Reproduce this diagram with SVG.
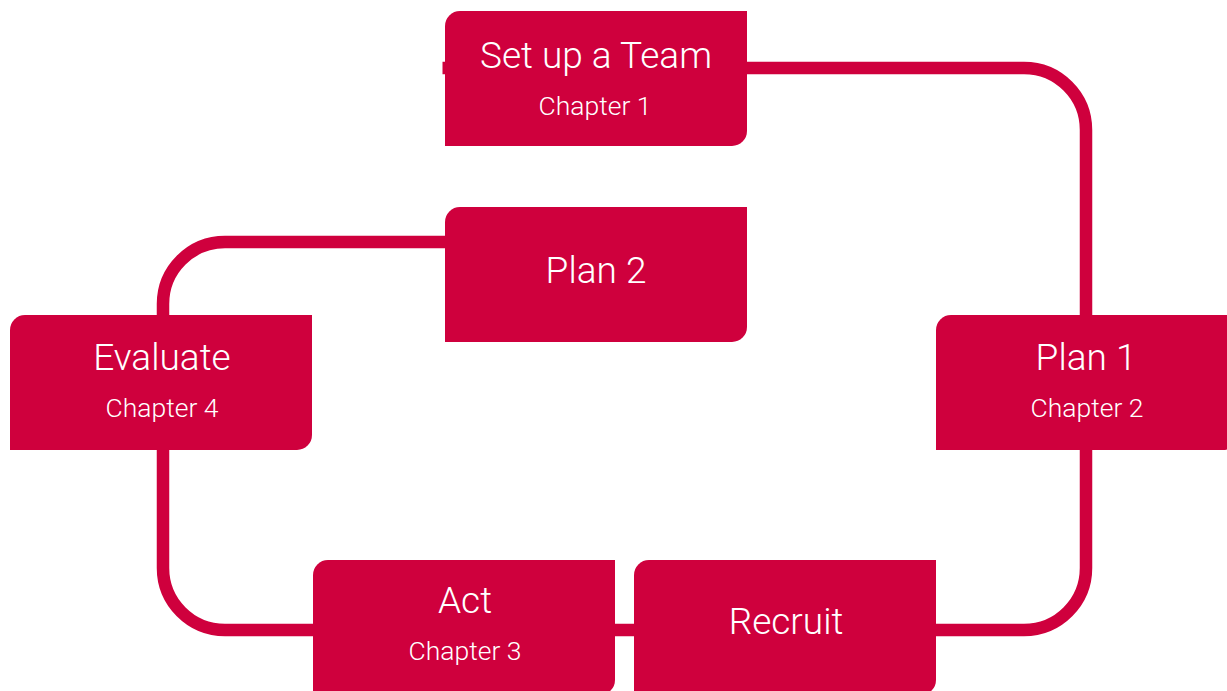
<svg xmlns="http://www.w3.org/2000/svg" width="1227" height="691" viewBox="0 0 1227 691">
  <style>
    .link { fill: none; stroke: #cf003d; stroke-width: 12.5; }
    .box { fill: #cf003d; }
    .title { font-family: Roboto, "Liberation Sans", sans-serif; font-weight: 300; font-size: 37px; fill: #ffffff; text-anchor: middle; }
    .sub { font-family: Roboto, "Liberation Sans", sans-serif; font-weight: 300; font-size: 26.5px; fill: #ffffff; text-anchor: middle; }
  </style>
  <defs>
    <!-- box with rounded top-left and bottom-right corners, 302 x 135 -->
    <path id="card" d="M0 15 A15 15 0 0 1 15 0 H302 V120 A15 15 0 0 1 287 135 H0 Z"/>
  </defs>
  <rect width="1227" height="691" fill="#ffffff"/>

  <g id="connectors">
    <path class="link" d="M740 68 H1024 A62 62 0 0 1 1086 130 V320"/>
    <path class="link" d="M1086 444 V568 A62 62 0 0 1 1024 630 H930"/>
    <path class="link" d="M640 630 H608"/>
    <path class="link" d="M320 630 H225 A62 62 0 0 1 163 568 V444"/>
    <path class="link" d="M163 320 V304 A62 62 0 0 1 225 242 H452"/>
    <path class="link" d="M442.5 68 H450"/>
  </g>

  <g id="node-setup">
    <use href="#card" class="box" x="445" y="11"/>
    <text class="title" x="596" y="68">Set up a Team</text>
    <text class="sub" x="595" y="115">Chapter 1</text>
  </g>

  <g id="node-plan2">
    <use href="#card" class="box" x="445" y="207"/>
    <text class="title" x="596" y="283">Plan 2</text>
  </g>

  <g id="node-evaluate">
    <use href="#card" class="box" x="10" y="315"/>
    <text class="title" x="162" y="370">Evaluate</text>
    <text class="sub" x="162" y="417">Chapter 4</text>
  </g>

  <g id="node-plan1">
    <use href="#card" class="box" x="936" y="315"/>
    <text class="title" x="1086" y="370">Plan 1</text>
    <text class="sub" x="1087" y="417">Chapter 2</text>
  </g>

  <g id="node-act">
    <use href="#card" class="box" x="313" y="560"/>
    <text class="title" x="465" y="613">Act</text>
    <text class="sub" x="465" y="660">Chapter 3</text>
  </g>

  <g id="node-recruit">
    <use href="#card" class="box" x="634" y="560"/>
    <text class="title" x="786" y="634">Recruit</text>
  </g>
</svg>
